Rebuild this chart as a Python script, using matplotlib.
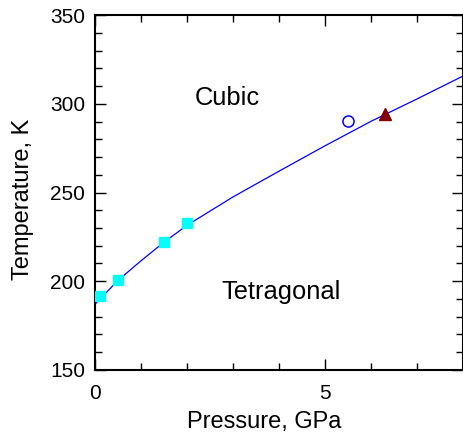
import numpy as np
import matplotlib.pyplot as plt
from matplotlib.ticker import MultipleLocator

plt.rcParams['font.family'] = ['Liberation Sans', 'DejaVu Sans']

# phase boundary
lineP = [0, 0.5, 1, 1.5, 2, 3, 4, 5, 6, 7, 8]
lineT = [187, 200.5, 211.5, 222, 231.5, 247.5, 262, 276.3, 290.1, 302.7, 315.6]

# measured points
sqP = [0.11, 0.49, 1.49, 2.0]
sqT = [191.5, 200.7, 222.1, 232.8]
circP = [5.5]
circT = [290.3]
triP = [6.31]
triT = [294.4]

fig = plt.figure(figsize=(4.64, 4.34), dpi=100)
ax = fig.add_axes([0.2047, 0.1475, 0.7931, 0.8179])

ax.plot(lineP, lineT, color='#0000ff', lw=0.9, zorder=2)
ax.plot(sqP, sqT, 's', color='#00ffff', ms=7.5, mec='#00ffff', zorder=3)
ax.plot(circP, circT, 'o', mfc='none', mec='#0000ff', mew=1.1, ms=8, zorder=3)
ax.plot(triP, triT, '^', color='#800000', ms=8.5, zorder=3)

ax.text(2.16, 299.3, 'Cubic', fontsize=18.4, va='baseline')
ax.text(2.74, 190.2, 'Tetragonal', fontsize=18.4, va='baseline')

ax.set_xlim(0, 8)
ax.set_ylim(150, 350)
ax.xaxis.set_major_locator(MultipleLocator(5))
ax.xaxis.set_minor_locator(MultipleLocator(1))
ax.yaxis.set_major_locator(MultipleLocator(50))
ax.yaxis.set_minor_locator(MultipleLocator(10))
ax.tick_params(which='both', direction='in', top=True, right=True, width=1.0, labelsize=15)
ax.tick_params(which='major', length=8, pad=7)
ax.tick_params(axis='x', which='major', pad=10)
ax.tick_params(which='minor', length=5)
for s in ax.spines.values():
    s.set_linewidth(1.5)

ax.set_xlabel('Pressure, GPa', fontsize=17)
ax.set_ylabel('Temperature, K', fontsize=17)
ax.xaxis.set_label_coords(0.459, -0.116)
ax.yaxis.set_label_coords(-0.165, 0.48)

fig.savefig('out.png', dpi=100)
